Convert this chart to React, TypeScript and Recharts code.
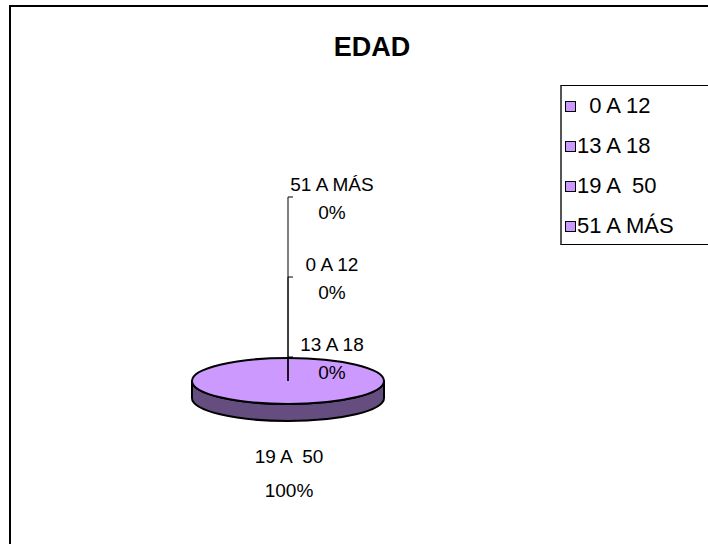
import { Legend, Pie, PieChart } from "recharts";

const ageGroups = ["  0 A 12", "13 A 18", "19 A  50", "51 A MÁS"];
const counts = [0, 0, 100, 0];
// order in which the empty slices' labels stack upward from the pie
const zeroLabelStack = ["13 A 18", "0 A 12", "51 A MÁS"];

const data = ageGroups.map((name, i) => ({ name, value: counts[i] }));

const TOP = "#CC99FF";
const SIDE = "#654D80";
const FLAT = 0.24; // ellipse height / width
const DEPTH = 17;
const FONT = "'Liberation Sans', Arial, sans-serif";
const RAD = Math.PI / 180;

function Slice3D(props: any) {
  const { cx, cy, outerRadius, startAngle, endAngle } = props;
  const rx = outerRadius;
  const ry = outerRadius * FLAT;
  const sweep = endAngle - startAngle;
  if (Math.abs(sweep) < 0.01) return <g />;
  const pt = (a: number, dy = 0) => [cx + rx * Math.cos(a * RAD), cy + dy - ry * Math.sin(a * RAD)];

  if (Math.abs(sweep) >= 359.99) {
    const side = `M${cx - rx},${cy} L${cx - rx},${cy + DEPTH} A${rx},${ry} 0 0 0 ${cx + rx},${cy + DEPTH} L${cx + rx},${cy} A${rx},${ry} 0 0 1 ${cx - rx},${cy} Z`;
    const top = `M${cx - rx},${cy} A${rx},${ry} 0 1 0 ${cx + rx},${cy} A${rx},${ry} 0 1 0 ${cx - rx},${cy} Z`;
    return (
      <g>
        <path d={side} fill={SIDE} stroke="#000" strokeWidth={2} strokeLinejoin="round" />
        <path d={top} fill={TOP} stroke="#000" strokeWidth={2} />
      </g>
    );
  }

  const [x1, y1] = pt(startAngle);
  const [x2, y2] = pt(endAngle);
  const large = Math.abs(sweep) > 180 ? 1 : 0;
  const dir = sweep < 0 ? 1 : 0;
  const top = `M${cx},${cy} L${x1},${y1} A${rx},${ry} 0 ${large} ${dir} ${x2},${y2} Z`;
  return <path d={top} fill={TOP} stroke="#000" strokeWidth={2} />;
}

function SliceLabel(props: any) {
  const { cx, cy, name, percent, value } = props;
  const label = String(name).trim();
  const pct = `${Math.round(percent * 100)}%`;
  const textStyle = { fontFamily: FONT, fontSize: 19, whiteSpace: "pre" as const };
  if (value > 0) {
    return (
      <g>
        <text x={cx + 1} y={cy + 82} textAnchor="middle" fill="#000" style={textStyle}>{label}</text>
        <text x={cx + 1} y={cy + 116} textAnchor="middle" fill="#000" style={textStyle}>{pct}</text>
      </g>
    );
  }
  const level = zeroLabelStack.indexOf(label);
  const tickY = cy - 24 - level * 80;
  return (
    <g>
      <path d={`M${cx},${cy} L${cx},${tickY} L${cx + 5},${tickY}`} fill="none" stroke="#000" strokeWidth={1} />
      <text x={cx + 44} y={tickY - 6} textAnchor="middle" fill="#000" style={textStyle}>{label}</text>
      <text x={cx + 44} y={tickY + 22} textAnchor="middle" fill="#000" style={textStyle}>{pct}</text>
    </g>
  );
}

function LegendBox({ payload }: any) {
  return (
    <div style={{ border: "1px solid #000", borderLeft: "2px solid #555", borderRight: "none", width: 160, height: 160, boxSizing: "border-box", paddingLeft: 3 }}>
      {(payload || []).map((item: any) => (
        <div key={item.value} style={{ height: 40, display: "flex", alignItems: "center", fontFamily: FONT, fontSize: 22, color: "#000", whiteSpace: "pre" }}>
          <span style={{ display: "inline-block", width: 9, height: 9, background: TOP, border: "1px solid #000", marginRight: 1 }} />
          {item.value}
        </div>
      ))}
    </div>
  );
}

export default function App() {
  return (
    <div style={{ position: "absolute", left: 0, top: 0, width: 708, height: 544, overflow: "hidden", background: "#fff" }}>
      <div style={{ position: "absolute", left: 9, top: 5, width: 720, height: 560, borderLeft: "2px solid #000", borderTop: "2px solid #000" }} />
      <div style={{ position: "absolute", left: 0, top: 31, width: 744, textAlign: "center", fontFamily: FONT, fontWeight: "bold", fontSize: 27, lineHeight: "32px" }}>
        EDAD
      </div>
      <div style={{ position: "absolute", left: 0, top: 0 }}>
        <PieChart width={708} height={544}>
          <Pie
            data={data}
            dataKey="value"
            nameKey="name"
            cx={283}
            cy={376}
            outerRadius={96}
            startAngle={90}
            endAngle={-270}
            fill={TOP}
            stroke="#000"
            shape={Slice3D}
            label={SliceLabel}
            labelLine={false}
            isAnimationActive={false}
          />
          <Legend
            layout="vertical"
            align="right"
            verticalAlign="top"
            content={<LegendBox />}
            wrapperStyle={{ position: "absolute", left: 560, top: 85, width: 160 }}
          />
        </PieChart>
      </div>
    </div>
  );
}
